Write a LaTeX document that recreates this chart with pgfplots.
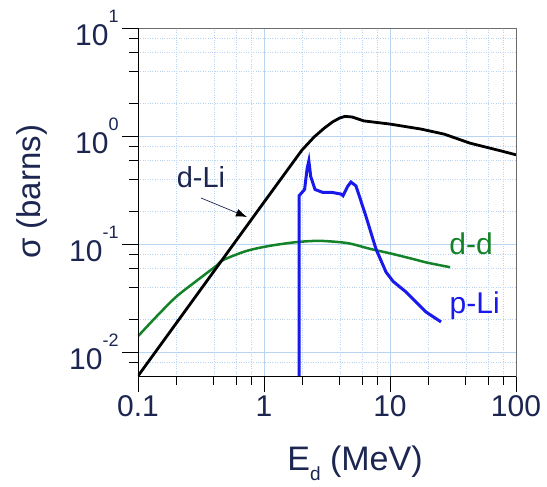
\documentclass[border=0pt]{standalone}
\usepackage{fontspec}
\setmainfont{Liberation Sans}
\usepackage{pgfplots}
\pgfplotsset{compat=1.18}
\usetikzlibrary{arrows.meta}
\definecolor{navy}{RGB}{28,38,80}
\definecolor{gridblue}{RGB}{185,212,240}
\definecolor{ddgreen}{RGB}{20,130,40}
\definecolor{pliblue}{RGB}{25,25,235}
\newcommand\ex[1]{\raisebox{0.78em}{\fontsize{18}{18}\selectfont #1}}
\begin{document}
\begin{tikzpicture}
\begin{axis}[
  name=ax, scale only axis, width=378pt, height=348pt,
  xmode=log, ymode=log, xmin=0.1, xmax=100, ymin=0.006, ymax=10,
  xtick={0.1,1,10,100}, xticklabels={0.1,1,10,100},
  ytick={0.01,0.1,1,10}, yticklabels={10\ex{-2},10\ex{-1},10\ex{0},10\ex{1}},
  minor xtick={0.2,0.4,0.6,0.8,2,4,6,8,20,40,60,80},
  minor ytick={0.008,0.02,0.04,0.06,0.08,0.2,0.4,0.6,0.8,2,4,6,8},
  xtick pos=bottom, ytick pos=left, tick align=outside,
  major tick length=16pt, minor tick length=9pt,
  tick style={black, line width=0.8pt},
  grid=both,
  major grid style={gridblue, line width=0.6pt},
  minor grid style={gridblue, dotted, line width=0.7pt},
  axis line style={gray!85!black, line width=0.8pt},
  ticklabel style={font=\fontsize{30}{31}\selectfont, text=navy},
  xlabel={E\raisebox{-0.28em}{\fontsize{19}{19}\selectfont d} (MeV)},
  ylabel={σ (barns)},
  xlabel style={at={(axis description cs:0.574,-0.272)}, anchor=base, font=\fontsize{34}{36}\selectfont, text=navy},
  ylabel style={at={(axis description cs:-0.259,0.529)}, anchor=base, rotate=0, font=\fontsize{33}{36}\selectfont, text=navy},
]
% d-d
\addplot[ddgreen, line width=2.5pt, smooth] coordinates {
(0.1,0.014) (0.139,0.0211) (0.2,0.0323) (0.29,0.0454) (0.416,0.0625) (0.473,0.071)
(0.72,0.086) (1.1,0.096) (1.79,0.104) (2.7,0.107) (4,0.104) (5,0.1)
(7,0.09) (10,0.082) (15,0.073) (20,0.067) (30,0.061)};
% d-Li
\addplot[black, line width=2.8pt] coordinates {
(0.1,0.006) (1,0.244) (2,0.74) (2.5,0.98) (3,1.18) (3.5,1.35) (4,1.47) (4.4,1.52)
(5,1.5) (6.2,1.38) (10,1.29) (17.6,1.16) (27,1.04) (43,0.86) (72,0.74) (100,0.67)};
% p-Li
\addplot[pliblue, line width=3pt] coordinates {
(1.9,0.006) (1.9,0.28) (2.0,0.30) (2.1,0.32) (2.2,0.50) (2.27,0.59) (2.35,0.42)
(2.54,0.32) (2.94,0.30) (3.5,0.30) (4.09,0.29) (4.24,0.28) (4.6,0.34) (4.9,0.375)
(5.37,0.345) (6.45,0.18) (7.74,0.09) (9.3,0.055) (10.6,0.045) (13.4,0.036)
(19.3,0.0235) (25.4,0.019)};
\node[font=\fontsize{29}{30}\selectfont, text=navy] at (axis cs:0.316,0.417) {d-Li};
\draw[navy, line width=0.7pt, -{Latex[black,length=11pt,width=8pt]}] (axis cs:0.316,0.267) -- (axis cs:0.733,0.178);
\node[font=\fontsize{30}{30}\selectfont, text=ddgreen] at (axis cs:44,0.1) {d-d};
\node[font=\fontsize{30}{30}\selectfont, text=pliblue] at (axis cs:47,0.0267) {p-Li};
\end{axis}
\draw[black, line width=0.9pt] (ax.north west) -- (ax.south west) -- (ax.south east);
\pgfresetboundingbox
\path ([xshift=-138pt,yshift=-111pt]ax.south west) rectangle ([xshift=31pt,yshift=28pt]ax.north east);
\end{tikzpicture}
\end{document}
